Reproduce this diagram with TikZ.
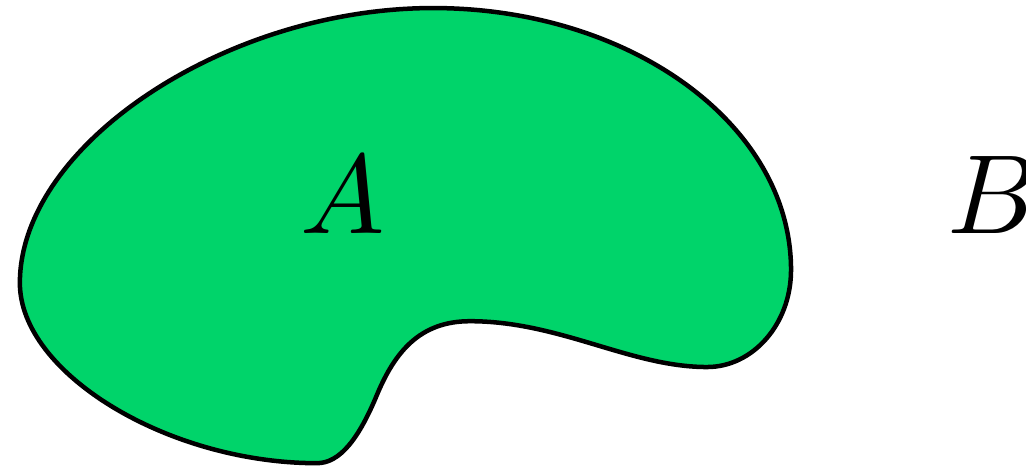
\documentclass[tikz,border=0pt]{standalone}
\definecolor{setgreen}{RGB}{0,212,106}
\begin{document}
\begin{tikzpicture}[line join=round]
        % ---- frame ----
        \useasboundingbox (0,0) rectangle (3.201,1.454);

        % ---- the set A, a closed blob with a notch underneath ----
        \draw[fill=setgreen] (0.062,0.571)
            .. controls (0.062,1.002) and (0.705,1.429) .. (1.351,1.429)
            .. controls (1.969,1.429) and (2.468,1.064) .. (2.468,0.612)
            .. controls (2.468,0.443) and (2.349,0.309) .. (2.206,0.309)
            .. controls (1.966,0.309) and (1.747,0.452) .. (1.466,0.452)
            .. controls (1.310,0.452) and (1.232,0.356) .. (1.176,0.222)
            .. controls (1.120,0.087) and (1.061,0.009) .. (0.989,0.009)
            .. controls (0.524,0.009) and (0.062,0.290) .. cycle;

        % ---- labels ----
        \node (A) at (1.070,0.846) {$A$};
        \node (B) at (3.098,0.846) {$B$};
    \end{tikzpicture}
\end{document}
